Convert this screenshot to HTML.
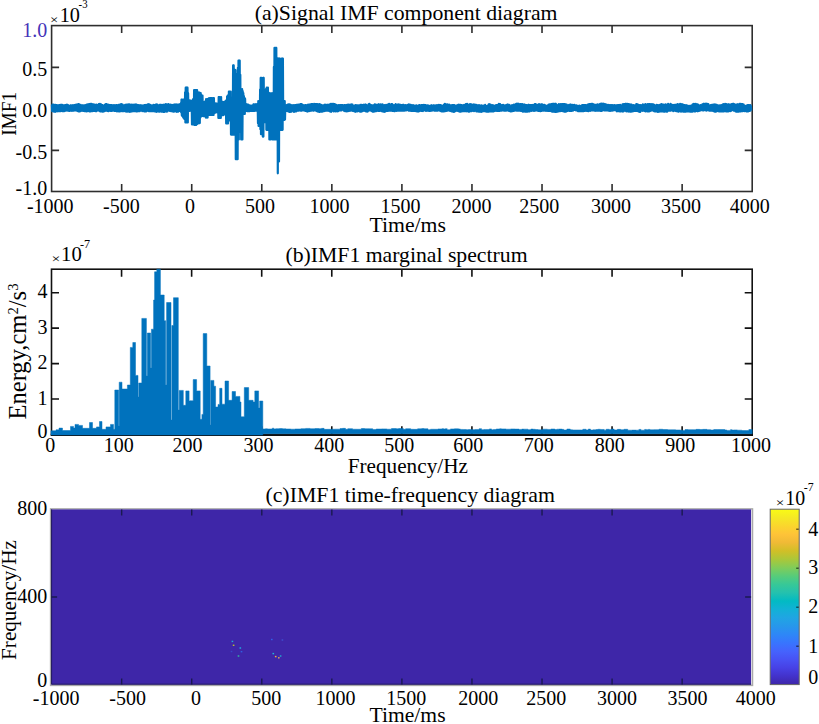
<!DOCTYPE html>
<html><head><meta charset="utf-8"><style>html,body{margin:0;padding:0;background:#fff;width:819px;height:724px;overflow:hidden;position:relative}text{font-family:"Liberation Serif",serif}</style></head>
<body>
<svg width="819" height="724" viewBox="0 0 819 724" style="position:absolute;left:0;top:0">
<rect width="819" height="724" fill="#fff"/>
<g font-family="Liberation Serif, serif">
<g stroke="#2e2e2e" stroke-width="1.6" fill="none">
<rect x="51.6" y="25.6" width="700.60" height="165.90"/>
<path d="M121.66,25.6v7.5M121.66,191.5v-7.5M191.72,25.6v7.5M191.72,191.5v-7.5M261.78,25.6v7.5M261.78,191.5v-7.5M331.84,25.6v7.5M331.84,191.5v-7.5M401.90,25.6v7.5M401.90,191.5v-7.5M471.96,25.6v7.5M471.96,191.5v-7.5M542.02,25.6v7.5M542.02,191.5v-7.5M612.08,25.6v7.5M612.08,191.5v-7.5M682.14,25.6v7.5M682.14,191.5v-7.5M51.6,67.40h7.5M752.2,67.40h-7.5M51.6,150.40h7.5M752.2,150.40h-7.5"/>
</g>
<path d="M51.90,104.61 L52.20,111.11 L52.50,104.59 L52.80,111.27 L53.10,104.99 L53.40,110.96 L53.70,104.72 L54.00,111.58 L54.30,104.78 L54.60,110.76 L54.90,106.17 L55.20,111.80 L55.50,104.95 L55.80,111.24 L56.10,105.95 L56.40,110.82 L56.70,105.18 L57.00,111.40 L57.30,106.22 L57.60,111.19 L57.90,105.40 L58.20,111.19 L58.50,105.32 L58.80,111.20 L59.10,105.12 L59.40,111.21 L59.70,105.98 L60.00,110.18 L60.30,104.85 L60.60,111.22 L60.90,105.32 L61.20,110.87 L61.50,104.74 L61.80,110.61 L62.10,104.91 L62.40,111.22 L62.70,105.08 L63.00,111.22 L63.30,105.26 L63.60,111.22 L63.90,105.43 L64.20,111.16 L64.50,106.48 L64.80,110.82 L65.10,105.19 L65.40,110.54 L65.70,105.94 L66.00,110.68 L66.30,104.90 L66.60,110.14 L66.90,104.75 L67.20,110.45 L67.50,104.84 L67.80,110.59 L68.10,104.98 L68.40,110.00 L68.70,106.04 L69.00,110.86 L69.30,106.20 L69.60,110.99 L69.90,105.51 L70.20,110.64 L70.50,105.46 L70.80,110.66 L71.10,105.39 L71.40,110.30 L71.70,105.78 L72.00,110.81 L72.30,105.37 L72.60,109.85 L72.90,105.36 L73.20,110.65 L73.50,105.26 L73.80,110.57 L74.10,105.14 L74.40,109.88 L74.70,105.79 L75.00,110.48 L75.30,104.89 L75.60,110.42 L75.90,105.46 L76.20,110.47 L76.50,104.63 L76.80,110.73 L77.10,104.48 L77.40,110.98 L77.70,104.33 L78.00,111.23 L78.30,104.18 L78.60,111.49 L78.90,104.03 L79.20,111.44 L79.50,105.16 L79.80,111.39 L80.10,105.41 L80.40,111.19 L80.70,104.74 L81.00,110.99 L81.30,106.12 L81.60,110.41 L81.90,106.18 L82.20,110.69 L82.50,105.27 L82.80,110.78 L83.10,105.23 L83.40,110.72 L83.70,106.37 L84.00,110.98 L84.30,105.29 L84.60,111.07 L84.90,106.35 L85.20,111.16 L85.50,105.22 L85.80,111.21 L86.10,104.84 L86.40,111.33 L86.70,104.70 L87.00,111.00 L87.30,104.95 L87.60,111.18 L87.90,104.40 L88.20,110.25 L88.50,105.48 L88.80,111.00 L89.10,104.16 L89.40,111.41 L89.70,104.04 L90.00,110.98 L90.30,103.92 L90.60,111.31 L90.90,104.54 L91.20,111.25 L91.50,103.90 L91.80,110.00 L92.10,104.03 L92.40,111.10 L92.70,104.74 L93.00,110.43 L93.30,104.31 L93.60,110.95 L93.90,104.89 L94.20,110.92 L94.50,104.52 L94.80,110.98 L95.10,105.43 L95.40,111.05 L95.70,104.76 L96.00,111.11 L96.30,104.72 L96.60,111.17 L96.90,104.79 L97.20,110.25 L97.50,104.99 L97.80,110.26 L98.10,105.45 L98.40,110.30 L98.70,104.19 L99.00,110.39 L99.30,104.83 L99.60,111.26 L99.90,103.77 L100.20,111.29 L100.50,104.10 L100.80,111.37 L101.10,104.36 L101.40,111.44 L101.70,105.90 L102.00,111.51 L102.30,105.04 L102.60,111.59 L102.90,105.52 L103.20,111.56 L103.50,106.00 L103.80,111.35 L104.10,105.23 L104.40,111.13 L104.70,105.49 L105.00,110.91 L105.30,104.30 L105.60,110.69 L105.90,104.00 L106.20,110.60 L106.50,104.12 L106.80,109.85 L107.10,105.56 L107.40,110.89 L107.70,104.80 L108.00,111.03 L108.30,104.75 L108.60,111.18 L108.90,104.96 L109.20,110.26 L109.50,105.04 L109.80,110.00 L110.10,105.09 L110.40,110.78 L110.70,105.15 L111.00,110.94 L111.30,105.20 L111.60,110.06 L111.90,105.37 L112.20,110.78 L112.50,105.27 L112.80,110.39 L113.10,105.28 L113.40,110.09 L113.70,105.29 L114.00,110.81 L114.30,105.40 L114.60,110.76 L114.90,105.31 L115.20,110.88 L115.50,105.25 L115.80,110.98 L116.10,105.18 L116.40,111.19 L116.70,105.11 L117.00,111.35 L117.30,106.07 L117.60,111.16 L117.90,105.27 L118.20,110.68 L118.50,104.80 L118.80,111.50 L119.10,105.94 L119.40,111.42 L119.70,105.57 L120.00,111.33 L120.30,104.24 L120.60,110.43 L120.90,104.25 L121.20,110.32 L121.50,104.22 L121.80,111.22 L122.10,104.46 L122.40,110.56 L122.70,104.69 L123.00,111.25 L123.30,105.35 L123.60,111.08 L123.90,106.23 L124.20,110.42 L124.50,105.86 L124.80,110.35 L125.10,104.93 L125.40,111.43 L125.70,104.78 L126.00,110.94 L126.30,104.63 L126.60,111.55 L126.90,105.22 L127.20,111.61 L127.50,104.96 L127.80,110.42 L128.10,104.42 L128.40,111.49 L128.70,105.86 L129.00,111.76 L129.30,104.38 L129.60,111.81 L129.90,105.00 L130.20,110.89 L130.50,105.26 L130.80,111.64 L131.10,104.61 L131.40,111.49 L131.70,105.17 L132.00,111.34 L132.30,104.73 L132.60,111.19 L132.90,104.83 L133.20,111.11 L133.50,105.26 L133.80,111.16 L134.10,104.72 L134.40,111.22 L134.70,105.81 L135.00,111.27 L135.30,104.60 L135.60,110.76 L135.90,104.53 L136.20,111.35 L136.50,104.67 L136.80,110.86 L137.10,104.85 L137.40,111.28 L137.70,105.78 L138.00,111.25 L138.30,105.20 L138.60,110.38 L138.90,106.11 L139.20,111.19 L139.50,105.42 L139.80,111.19 L140.10,105.41 L140.40,110.24 L140.70,105.42 L141.00,110.51 L141.30,106.08 L141.60,110.55 L141.90,105.42 L142.20,111.22 L142.50,105.78 L142.80,110.16 L143.10,106.04 L143.40,110.26 L143.70,105.27 L144.00,111.30 L144.30,105.21 L144.60,111.45 L144.90,105.20 L145.20,111.46 L145.50,105.00 L145.80,111.35 L146.10,104.83 L146.40,111.31 L146.70,105.52 L147.00,110.77 L147.30,105.73 L147.60,110.24 L147.90,104.31 L148.20,110.91 L148.50,104.35 L148.80,111.14 L149.10,104.45 L149.40,110.43 L149.70,104.54 L150.00,111.19 L150.30,104.78 L150.60,111.22 L150.90,105.06 L151.20,111.23 L151.50,105.98 L151.80,110.67 L152.10,105.76 L152.40,111.19 L152.70,105.63 L153.00,110.52 L153.30,104.90 L153.60,111.16 L153.90,105.61 L154.20,111.19 L154.50,105.16 L154.80,111.34 L155.10,104.77 L155.40,111.49 L155.70,104.67 L156.00,111.64 L156.30,104.57 L156.60,111.79 L156.90,104.47 L157.20,110.46 L157.50,105.85 L157.80,111.46 L158.10,105.92 L158.40,110.83 L158.70,105.84 L159.00,111.62 L159.30,104.90 L159.60,111.55 L159.90,105.40 L160.20,111.41 L160.50,104.74 L160.80,111.48 L161.10,104.80 L161.40,111.63 L161.70,105.98 L162.00,110.68 L162.30,106.04 L162.60,111.63 L162.90,104.97 L163.20,111.79 L163.50,105.74 L163.80,111.81 L164.10,104.64 L164.40,111.83 L164.70,104.94 L165.00,110.64 L165.30,105.67 L165.60,111.34 L165.90,104.10 L166.20,111.17 L166.50,104.29 L166.80,111.60 L167.10,104.73 L167.40,111.38 L167.70,105.35 L168.00,110.66 L168.30,104.20 L168.60,110.33 L168.90,104.24 L169.20,109.83 L169.50,105.52 L169.80,110.91 L170.10,105.04 L170.40,111.02 L170.70,104.72 L171.00,111.12 L171.30,104.88 L171.60,110.53 L171.90,105.18 L172.20,111.32 L172.50,104.98 L172.80,110.17 L173.10,104.86 L173.40,111.56 L173.70,104.73 L174.00,111.68 L174.30,104.61 L174.60,111.21 L174.90,104.49 L175.20,111.11 L175.50,104.49 L175.80,110.74 L176.10,104.50 L176.40,111.81 L176.70,104.71 L177.00,110.92 L177.30,104.54 L177.60,111.75 L177.90,105.20 L178.20,111.65 L178.50,105.29 L178.80,111.08 L179.10,104.33 L179.40,110.05 L179.70,105.15 L180.00,110.97 L180.30,104.07 L180.60,109.74 L180.90,103.21 L181.20,112.50 L181.50,99.60 L181.80,115.34 L182.10,99.56 L182.40,116.21 L182.70,102.39 L183.00,117.08 L183.30,99.49 L183.60,117.95 L183.90,100.21 L184.20,118.83 L184.50,99.42 L184.80,118.53 L185.10,92.38 L185.40,122.40 L185.70,87.70 L186.00,122.40 L186.30,87.70 L186.60,122.40 L186.90,87.70 L187.20,122.40 L187.50,87.70 L187.80,122.40 L188.10,93.18 L188.40,111.09 L188.70,102.71 L189.00,110.44 L189.30,100.69 L189.60,110.80 L189.90,100.28 L190.20,109.76 L190.50,100.64 L190.80,110.83 L191.10,101.31 L191.40,110.16 L191.70,102.35 L192.00,124.50 L192.30,100.70 L192.60,124.50 L192.90,99.40 L193.20,121.04 L193.50,100.46 L193.80,120.83 L194.10,90.10 L194.40,124.90 L194.70,90.10 L195.00,124.90 L195.30,90.10 L195.60,124.90 L195.90,96.29 L196.20,124.90 L196.50,90.10 L196.80,120.52 L197.10,90.10 L197.40,124.00 L197.70,92.60 L198.00,123.10 L198.30,92.60 L198.60,123.10 L198.90,92.60 L199.20,123.10 L199.50,92.60 L199.80,123.10 L200.10,93.73 L200.40,117.53 L200.70,93.13 L201.00,113.34 L201.30,95.60 L201.60,116.20 L201.90,95.60 L202.20,115.60 L202.50,95.60 L202.80,115.02 L203.10,102.32 L203.40,116.11 L203.70,102.12 L204.00,113.64 L204.30,101.92 L204.60,116.25 L204.90,101.72 L205.20,116.14 L205.50,101.91 L205.80,117.60 L206.10,99.10 L206.40,117.60 L206.70,100.91 L207.00,116.16 L207.30,99.10 L207.60,117.60 L207.90,99.10 L208.20,115.14 L208.50,98.60 L208.80,114.90 L209.10,98.10 L209.40,112.46 L209.70,101.45 L210.00,114.90 L210.30,98.10 L210.60,114.84 L210.90,98.10 L211.20,114.90 L211.50,98.10 L211.80,112.71 L212.10,98.10 L212.40,114.90 L212.70,101.09 L213.00,112.98 L213.30,98.10 L213.60,114.90 L213.90,98.10 L214.20,113.20 L214.50,105.09 L214.80,112.39 L215.10,104.09 L215.40,112.73 L215.70,103.45 L216.00,112.49 L216.30,105.24 L216.60,110.68 L216.90,103.62 L217.20,112.21 L217.50,104.46 L217.80,112.55 L218.10,104.87 L218.40,117.90 L218.70,97.10 L219.00,116.94 L219.30,97.10 L219.60,117.90 L219.90,97.10 L220.20,117.90 L220.50,98.60 L220.80,117.90 L221.10,97.10 L221.40,115.18 L221.70,102.70 L222.00,115.23 L222.30,101.92 L222.60,113.12 L222.90,102.25 L223.20,115.17 L223.50,102.50 L223.80,114.77 L224.10,101.89 L224.40,114.36 L224.70,101.66 L225.00,112.02 L225.30,101.44 L225.60,113.54 L225.90,101.97 L226.20,123.50 L226.50,100.06 L226.80,123.50 L227.10,96.54 L227.40,123.50 L227.70,95.50 L228.00,123.50 L228.30,95.50 L228.60,120.30 L228.90,91.60 L229.20,120.30 L229.50,91.60 L229.80,120.30 L230.10,93.64 L230.40,120.30 L230.70,91.60 L231.00,134.60 L231.30,100.10 L231.60,134.60 L231.90,100.10 L232.20,134.60 L232.50,101.95 L232.80,134.60 L233.10,65.40 L233.40,134.60 L233.70,65.40 L234.00,134.60 L234.30,69.27 L234.60,134.60 L234.90,70.89 L235.20,134.60 L235.50,70.15 L235.80,159.20 L236.10,74.90 L236.40,159.20 L236.70,74.90 L237.00,153.35 L237.30,74.90 L237.60,159.20 L237.90,67.75 L238.20,139.40 L238.50,60.60 L238.80,139.40 L239.10,60.60 L239.40,129.20 L239.70,60.60 L240.00,131.77 L240.30,74.85 L240.60,127.40 L240.90,89.10 L241.20,139.40 L241.50,89.55 L241.80,139.40 L242.10,89.10 L242.40,139.40 L242.70,91.10 L243.00,113.90 L243.30,93.10 L243.60,113.90 L243.90,95.99 L244.20,113.90 L244.50,97.87 L244.80,113.90 L245.10,98.90 L245.40,109.91 L245.70,105.42 L246.00,110.93 L246.30,104.39 L246.60,111.01 L246.90,104.32 L247.20,111.08 L247.50,104.49 L247.80,110.35 L248.10,104.71 L248.40,111.13 L248.70,105.01 L249.00,110.24 L249.30,105.90 L249.60,111.19 L249.90,105.38 L250.20,110.96 L250.50,105.85 L250.80,110.22 L251.10,105.82 L251.40,110.86 L251.70,105.48 L252.00,111.02 L252.30,105.80 L252.60,110.25 L252.90,105.43 L253.20,110.91 L253.50,104.25 L253.80,110.86 L254.10,104.27 L254.40,110.82 L254.70,105.42 L255.00,110.77 L255.30,104.31 L255.60,110.72 L255.90,104.33 L256.20,110.36 L256.50,104.23 L256.80,110.60 L257.10,104.10 L257.40,110.69 L257.70,105.43 L258.00,123.30 L258.30,101.10 L258.60,125.90 L258.90,102.08 L259.20,125.90 L259.50,101.10 L259.80,125.90 L260.10,89.50 L260.40,129.18 L260.70,77.90 L261.00,134.23 L261.30,77.90 L261.60,132.15 L261.90,81.92 L262.20,134.19 L262.50,87.63 L262.80,136.60 L263.10,77.90 L263.40,136.60 L263.70,77.90 L264.00,119.63 L264.30,90.40 L264.60,122.10 L264.90,90.40 L265.20,122.10 L265.50,90.40 L265.80,122.10 L266.10,88.95 L266.40,129.80 L266.70,87.50 L267.00,129.80 L267.30,95.73 L267.60,125.20 L267.90,87.50 L268.20,129.80 L268.50,92.68 L268.80,129.80 L269.10,95.16 L269.40,139.50 L269.70,93.30 L270.00,139.50 L270.30,93.30 L270.60,139.50 L270.90,97.29 L271.20,133.37 L271.50,93.30 L271.80,127.40 L272.10,93.30 L272.40,139.50 L272.70,93.30 L273.00,131.56 L273.30,93.30 L273.60,139.50 L273.90,66.94 L274.20,139.50 L274.50,47.90 L274.80,139.50 L275.10,64.96 L275.40,132.03 L275.70,47.90 L276.00,139.50 L276.30,47.90 L276.60,135.18 L276.90,64.04 L277.20,139.50 L277.50,58.50 L277.80,173.30 L278.10,58.50 L278.40,148.30 L278.70,58.50 L279.00,161.46 L279.30,58.50 L279.60,129.80 L279.90,58.50 L280.20,129.80 L280.50,66.28 L280.80,129.80 L281.10,60.29 L281.40,129.80 L281.70,58.50 L282.00,129.80 L282.30,58.50 L282.60,129.80 L282.90,58.50 L283.20,119.90 L283.50,101.10 L283.80,119.90 L284.10,103.65 L284.40,119.90 L284.70,101.10 L285.00,119.50 L285.30,106.10 L285.60,110.38 L285.90,106.24 L286.20,110.58 L286.50,105.20 L286.80,110.88 L287.10,104.94 L287.40,111.09 L287.70,104.68 L288.00,110.21 L288.30,104.42 L288.60,111.16 L288.90,105.05 L289.20,111.94 L289.50,104.31 L289.80,111.78 L290.10,105.31 L290.40,111.81 L290.70,104.78 L291.00,110.63 L291.30,105.02 L291.60,111.68 L291.90,105.25 L292.20,110.44 L292.50,106.33 L292.80,110.49 L293.10,105.21 L293.40,110.69 L293.70,106.15 L294.00,111.84 L294.30,105.48 L294.60,111.50 L294.90,105.08 L295.20,111.42 L295.50,105.03 L295.80,110.56 L296.10,105.34 L296.40,111.29 L296.70,104.92 L297.00,110.80 L297.30,104.87 L297.60,110.73 L297.90,105.95 L298.20,110.08 L298.50,104.66 L298.80,110.62 L299.10,105.32 L299.40,109.82 L299.70,105.30 L300.00,110.35 L300.30,104.13 L300.60,110.77 L300.90,104.05 L301.20,110.33 L301.50,104.17 L301.80,110.71 L302.10,104.90 L302.40,109.99 L302.70,104.78 L303.00,110.19 L303.30,105.04 L303.60,110.49 L303.90,106.05 L304.20,110.15 L304.50,105.49 L304.80,110.76 L305.10,105.13 L305.40,111.00 L305.70,105.00 L306.00,111.01 L306.30,106.14 L306.60,111.22 L306.90,105.32 L307.20,111.57 L307.50,104.94 L307.80,111.30 L308.10,104.63 L308.40,111.25 L308.70,104.89 L309.00,111.08 L309.30,104.66 L309.60,110.92 L309.90,105.00 L310.20,110.80 L310.50,104.41 L310.80,110.75 L311.10,104.62 L311.40,110.71 L311.70,104.17 L312.00,110.44 L312.30,104.05 L312.60,110.52 L312.90,104.74 L313.20,110.62 L313.50,105.31 L313.80,110.71 L314.10,103.95 L314.40,110.14 L314.70,104.98 L315.00,109.98 L315.30,103.99 L315.60,110.29 L315.90,104.02 L316.20,110.86 L316.50,104.01 L316.80,110.46 L317.10,105.64 L317.40,111.42 L317.70,104.20 L318.00,111.58 L318.30,105.21 L318.60,110.92 L318.90,104.34 L319.20,111.78 L319.50,104.12 L319.80,111.80 L320.10,104.33 L320.40,111.77 L320.70,104.55 L321.00,111.74 L321.30,104.94 L321.60,111.71 L321.90,105.10 L322.20,111.63 L322.50,105.75 L322.80,111.45 L323.10,105.90 L323.40,110.83 L323.70,105.31 L324.00,111.09 L324.30,104.82 L324.60,110.91 L324.90,104.78 L325.20,110.78 L325.50,104.78 L325.80,110.75 L326.10,104.80 L326.40,110.62 L326.70,106.11 L327.00,110.39 L327.30,104.86 L327.60,110.64 L327.90,104.86 L328.20,110.64 L328.50,105.69 L328.80,110.68 L329.10,104.51 L329.40,111.19 L329.70,104.32 L330.00,111.44 L330.30,104.13 L330.60,111.69 L330.90,103.93 L331.20,111.81 L331.50,105.59 L331.80,110.57 L332.10,103.85 L332.40,110.53 L332.70,104.06 L333.00,110.35 L333.30,103.80 L333.60,111.37 L333.90,104.05 L334.20,110.63 L334.50,104.01 L334.80,110.69 L335.10,105.64 L335.40,111.39 L335.70,104.61 L336.00,110.85 L336.30,104.90 L336.60,110.51 L336.90,105.20 L337.20,111.44 L337.50,105.24 L337.80,110.43 L338.10,105.23 L338.40,111.04 L338.70,105.22 L339.00,109.91 L339.30,106.34 L339.60,110.33 L339.90,105.21 L340.20,110.52 L340.50,105.19 L340.80,110.51 L341.10,105.17 L341.40,110.50 L341.70,105.15 L342.00,109.66 L342.30,105.13 L342.60,109.62 L342.90,105.98 L343.20,109.62 L343.50,105.92 L343.80,110.74 L344.10,105.10 L344.40,110.42 L344.70,105.10 L345.00,111.14 L345.30,106.07 L345.60,110.26 L345.90,105.10 L346.20,111.08 L346.50,105.02 L346.80,111.37 L347.10,104.93 L347.40,110.66 L347.70,104.84 L348.00,111.20 L348.30,105.15 L348.60,110.63 L348.90,104.65 L349.20,111.02 L349.50,105.46 L349.80,109.89 L350.10,105.53 L350.40,110.66 L350.70,104.53 L351.00,110.68 L351.30,105.27 L351.60,109.88 L351.90,104.45 L352.20,109.98 L352.50,104.54 L352.80,110.87 L353.10,106.07 L353.40,110.49 L353.70,105.99 L354.00,111.18 L354.30,105.80 L354.60,110.83 L354.90,106.22 L355.20,111.78 L355.50,105.12 L355.80,111.08 L356.10,106.39 L356.40,110.58 L356.70,105.31 L357.00,111.56 L357.30,105.41 L357.60,110.20 L357.90,105.50 L358.20,110.38 L358.50,105.39 L358.80,110.91 L359.10,105.59 L359.40,111.52 L359.70,105.44 L360.00,111.57 L360.30,104.94 L360.60,111.63 L360.90,105.77 L361.20,111.59 L361.50,104.77 L361.80,111.36 L362.10,104.98 L362.40,111.13 L362.70,105.15 L363.00,110.90 L363.30,104.91 L363.60,110.67 L363.90,104.85 L364.20,110.14 L364.50,104.79 L364.80,110.61 L365.10,104.72 L365.40,111.09 L365.70,104.64 L366.00,111.34 L366.30,104.85 L366.60,111.33 L366.90,105.90 L367.20,111.61 L367.50,105.52 L367.80,111.41 L368.10,105.24 L368.40,110.06 L368.70,104.08 L369.00,109.85 L369.30,103.94 L369.60,110.44 L369.90,104.44 L370.20,110.46 L370.50,105.53 L370.80,110.05 L371.10,105.19 L371.40,110.99 L371.70,105.29 L372.00,110.63 L372.30,105.30 L372.60,111.59 L372.90,105.63 L373.20,111.66 L373.50,105.45 L373.80,111.59 L374.10,105.68 L374.40,111.46 L374.70,104.44 L375.00,111.32 L375.30,104.50 L375.60,111.19 L375.90,104.57 L376.20,111.09 L376.50,104.78 L376.80,110.57 L377.10,105.69 L377.40,110.41 L377.70,105.05 L378.00,110.98 L378.30,104.44 L378.60,110.95 L378.90,104.40 L379.20,110.27 L379.50,105.89 L379.80,111.01 L380.10,105.52 L380.40,110.50 L380.70,104.33 L381.00,110.32 L381.30,105.62 L381.60,111.22 L381.90,105.16 L382.20,111.30 L382.50,104.47 L382.80,111.42 L383.10,105.95 L383.40,111.54 L383.70,105.27 L384.00,111.66 L384.30,105.16 L384.60,111.78 L384.90,105.82 L385.20,111.54 L385.50,105.49 L385.80,111.26 L386.10,104.86 L386.40,111.00 L386.70,105.82 L387.00,109.98 L387.30,104.89 L387.60,110.95 L387.90,104.66 L388.20,110.79 L388.50,104.13 L388.80,110.12 L389.10,103.95 L389.40,110.71 L389.70,105.19 L390.00,110.66 L390.30,105.07 L390.60,110.62 L390.90,104.33 L391.20,110.63 L391.50,104.06 L391.80,110.76 L392.10,104.03 L392.40,110.88 L392.70,104.70 L393.00,111.01 L393.30,105.11 L393.60,110.95 L393.90,105.29 L394.20,111.19 L394.50,105.63 L394.80,111.10 L395.10,104.82 L395.40,110.75 L395.70,104.00 L396.00,110.39 L396.30,105.05 L396.60,110.82 L396.90,105.13 L397.20,110.42 L397.50,105.63 L397.80,110.71 L398.10,104.33 L398.40,110.25 L398.70,104.54 L399.00,110.62 L399.30,104.63 L399.60,110.58 L399.90,104.78 L400.20,110.39 L400.50,104.80 L400.80,110.58 L401.10,105.04 L401.40,109.74 L401.70,105.22 L402.00,110.60 L402.30,105.59 L402.60,110.63 L402.90,104.79 L403.20,110.15 L403.50,104.88 L403.80,110.59 L404.10,105.50 L404.40,110.56 L404.70,105.55 L405.00,110.52 L405.30,105.21 L405.60,109.85 L405.90,106.47 L406.20,110.48 L406.50,105.68 L406.80,109.78 L407.10,104.98 L407.40,109.88 L407.70,105.42 L408.00,110.21 L408.30,104.59 L408.60,110.67 L408.90,104.39 L409.20,109.82 L409.50,104.54 L409.80,110.75 L410.10,104.99 L410.40,110.59 L410.70,104.96 L411.00,110.82 L411.30,105.99 L411.60,110.17 L411.90,105.38 L412.20,110.88 L412.50,105.41 L412.80,110.43 L413.10,105.41 L413.40,110.87 L413.70,105.41 L414.00,110.87 L414.30,105.87 L414.60,110.27 L414.90,106.24 L415.20,110.92 L415.50,105.53 L415.80,111.06 L416.10,105.52 L416.40,111.21 L416.70,105.30 L417.00,111.35 L417.30,106.11 L417.60,111.50 L417.90,106.10 L418.20,111.55 L418.50,105.79 L418.80,110.43 L419.10,105.18 L419.40,111.24 L419.70,105.19 L420.00,110.27 L420.30,106.27 L420.60,110.27 L420.90,105.23 L421.20,110.87 L421.50,105.17 L421.80,110.22 L422.10,105.11 L422.40,111.00 L422.70,105.04 L423.00,111.07 L423.30,104.98 L423.60,110.36 L423.90,104.91 L424.20,110.08 L424.50,104.99 L424.80,110.05 L425.10,105.10 L425.40,110.73 L425.70,105.20 L426.00,110.84 L426.30,106.03 L426.60,109.93 L426.90,105.97 L427.20,110.68 L427.50,105.45 L427.80,110.74 L428.10,106.27 L428.40,110.36 L428.70,105.49 L429.00,110.85 L429.30,106.35 L429.60,109.95 L429.90,106.01 L430.20,110.90 L430.50,106.15 L430.80,110.35 L431.10,105.43 L431.40,110.69 L431.70,105.37 L432.00,110.58 L432.30,106.10 L432.60,109.67 L432.90,106.01 L433.20,109.81 L433.50,105.26 L433.80,110.51 L434.10,105.28 L434.40,110.58 L434.70,106.13 L435.00,110.66 L435.30,105.58 L435.60,110.59 L435.90,105.34 L436.20,110.76 L436.50,105.26 L436.80,110.35 L437.10,105.16 L437.40,110.61 L437.70,105.44 L438.00,110.53 L438.30,105.81 L438.60,109.72 L438.90,104.88 L439.20,110.24 L439.50,106.21 L439.80,110.71 L440.10,105.09 L440.40,110.94 L440.70,105.21 L441.00,111.17 L441.30,105.34 L441.60,111.40 L441.90,106.36 L442.20,110.96 L442.50,106.11 L442.80,111.48 L443.10,105.77 L443.40,111.42 L443.70,104.92 L444.00,111.36 L444.30,104.28 L444.60,110.81 L444.90,103.97 L445.20,111.22 L445.50,104.00 L445.80,110.19 L446.10,104.51 L446.40,110.99 L446.70,105.16 L447.00,110.69 L447.30,104.29 L447.60,110.76 L447.90,105.26 L448.20,110.40 L448.50,104.79 L448.80,110.23 L449.10,104.71 L449.40,110.28 L449.70,104.98 L450.00,110.99 L450.30,106.26 L450.60,110.86 L450.90,105.23 L451.20,111.15 L451.50,105.77 L451.80,111.34 L452.10,105.18 L452.40,111.48 L452.70,105.15 L453.00,111.63 L453.30,105.11 L453.60,111.78 L453.90,105.48 L454.20,111.79 L454.50,105.03 L454.80,110.78 L455.10,105.83 L455.40,111.26 L455.70,106.08 L456.00,110.25 L456.30,105.52 L456.60,109.89 L456.90,105.43 L457.20,110.63 L457.50,105.11 L457.80,110.85 L458.10,104.88 L458.40,111.08 L458.70,104.87 L459.00,111.31 L459.30,104.87 L459.60,111.54 L459.90,105.60 L460.20,111.65 L460.50,104.93 L460.80,111.53 L461.10,105.02 L461.40,111.40 L461.70,105.11 L462.00,111.28 L462.30,105.50 L462.60,111.15 L462.90,105.31 L463.20,110.05 L463.50,105.08 L463.80,111.10 L464.10,104.81 L464.40,109.96 L464.70,105.06 L465.00,111.06 L465.30,105.45 L465.60,111.16 L465.90,104.01 L466.20,111.21 L466.50,104.20 L466.80,111.32 L467.10,103.87 L467.40,111.23 L467.70,105.27 L468.00,111.31 L468.30,104.96 L468.60,111.64 L468.90,104.93 L469.20,111.67 L469.50,104.96 L469.80,110.51 L470.10,104.06 L470.40,110.91 L470.70,104.72 L471.00,111.18 L471.30,104.44 L471.60,111.10 L471.90,104.64 L472.20,111.02 L472.50,105.97 L472.80,110.10 L473.10,104.66 L473.40,110.04 L473.70,104.65 L474.00,111.13 L474.30,104.65 L474.60,109.98 L474.90,104.84 L475.20,110.52 L475.50,104.76 L475.80,110.67 L476.10,104.91 L476.40,111.33 L476.70,105.05 L477.00,111.16 L477.30,106.20 L477.60,111.44 L477.90,105.35 L478.20,110.65 L478.50,105.36 L478.80,111.61 L479.10,105.36 L479.40,111.70 L479.70,105.46 L480.00,111.76 L480.30,105.78 L480.60,110.50 L480.90,105.79 L481.20,111.88 L481.50,105.32 L481.80,111.68 L482.10,106.02 L482.40,111.47 L482.70,106.30 L483.00,111.27 L483.30,105.71 L483.60,111.06 L483.90,105.74 L484.20,110.33 L484.50,105.49 L484.80,111.14 L485.10,104.95 L485.40,111.29 L485.70,105.56 L486.00,111.45 L486.30,105.96 L486.60,111.61 L486.90,105.98 L487.20,111.70 L487.50,105.90 L487.80,110.43 L488.10,105.24 L488.40,111.62 L488.70,104.45 L489.00,111.58 L489.30,104.25 L489.60,110.94 L489.90,104.44 L490.20,111.50 L490.50,104.65 L490.80,111.48 L491.10,105.36 L491.40,111.46 L491.70,105.31 L492.00,110.32 L492.30,106.17 L492.60,111.41 L492.90,105.19 L493.20,111.37 L493.50,106.19 L493.80,111.30 L494.10,105.98 L494.40,110.77 L494.70,105.87 L495.00,111.00 L495.30,105.43 L495.60,110.32 L495.90,105.82 L496.20,110.03 L496.50,105.20 L496.80,110.94 L497.10,106.14 L497.40,109.98 L497.70,104.81 L498.00,110.97 L498.30,104.70 L498.60,110.95 L498.90,103.84 L499.20,110.90 L499.50,104.63 L499.80,110.81 L500.10,104.06 L500.40,110.72 L500.70,105.52 L501.00,109.94 L501.30,105.32 L501.60,110.53 L501.90,105.21 L502.20,110.30 L502.50,106.06 L502.80,110.50 L503.10,104.81 L503.40,110.41 L503.70,106.21 L504.00,110.55 L504.30,105.49 L504.60,110.57 L504.90,105.23 L505.20,110.58 L505.50,105.88 L505.80,110.19 L506.10,104.99 L506.40,110.54 L506.70,104.84 L507.00,110.14 L507.30,104.70 L507.60,110.51 L507.90,104.55 L508.20,110.56 L508.50,105.55 L508.80,110.78 L509.10,104.88 L509.40,110.25 L509.70,105.07 L510.00,111.21 L510.30,106.38 L510.60,111.42 L510.90,106.25 L511.20,111.51 L511.50,106.17 L511.80,110.76 L512.10,105.15 L512.40,111.20 L512.70,105.25 L513.00,110.79 L513.30,105.27 L513.60,110.89 L513.90,104.59 L514.20,110.65 L514.50,104.90 L514.80,110.75 L515.10,104.66 L515.40,110.35 L515.70,104.09 L516.00,110.10 L516.30,103.92 L516.60,110.66 L516.90,103.76 L517.20,110.13 L517.50,103.76 L517.80,110.61 L518.10,103.81 L518.40,110.58 L518.70,103.85 L519.00,110.56 L519.30,104.83 L519.60,110.53 L519.90,105.12 L520.20,110.60 L520.50,103.99 L520.80,110.84 L521.10,104.05 L521.40,110.56 L521.70,105.19 L522.00,110.80 L522.30,104.18 L522.60,111.56 L522.90,104.26 L523.20,111.73 L523.50,105.25 L523.80,110.42 L524.10,104.54 L524.40,110.72 L524.70,104.70 L525.00,111.76 L525.30,104.86 L525.60,111.77 L525.90,106.01 L526.20,111.75 L526.50,105.02 L526.80,111.50 L527.10,106.01 L527.40,111.57 L527.70,106.14 L528.00,111.39 L528.30,104.90 L528.60,111.50 L528.90,104.86 L529.20,111.25 L529.50,105.02 L529.80,111.29 L530.10,104.99 L530.40,110.75 L530.70,105.06 L531.00,110.29 L531.30,105.13 L531.60,110.91 L531.90,105.21 L532.20,110.13 L532.50,105.04 L532.80,110.04 L533.10,104.81 L533.40,110.80 L533.70,105.22 L534.00,109.81 L534.30,104.79 L534.60,110.78 L534.90,104.14 L535.20,110.77 L535.50,104.18 L535.80,109.85 L536.10,105.18 L536.40,110.38 L536.70,104.88 L537.00,110.12 L537.30,105.56 L537.60,110.59 L537.90,105.55 L538.20,110.84 L538.50,104.47 L538.80,110.92 L539.10,104.47 L539.40,110.97 L539.70,104.29 L540.00,111.03 L540.30,104.56 L540.60,111.08 L540.90,105.37 L541.20,110.03 L541.50,104.23 L541.80,110.99 L542.10,104.40 L542.40,110.41 L542.70,104.56 L543.00,110.14 L543.30,104.73 L543.60,110.70 L543.90,105.00 L544.20,110.66 L544.50,104.95 L544.80,109.98 L545.10,105.64 L545.40,110.15 L545.70,105.72 L546.00,110.94 L546.30,106.19 L546.60,109.97 L546.90,105.85 L547.20,109.99 L547.50,105.71 L547.80,110.95 L548.10,105.80 L548.40,110.96 L548.70,104.50 L549.00,110.90 L549.30,104.29 L549.60,110.84 L549.90,104.66 L550.20,110.88 L550.50,105.30 L550.80,110.12 L551.10,104.14 L551.40,111.32 L551.70,104.16 L552.00,111.55 L552.30,103.79 L552.60,111.77 L552.90,105.23 L553.20,111.32 L553.50,103.76 L553.80,111.75 L554.10,103.80 L554.40,110.97 L554.70,104.09 L555.00,111.93 L555.30,103.91 L555.60,111.93 L555.90,103.95 L556.20,111.89 L556.50,105.65 L556.80,110.55 L557.10,105.51 L557.40,111.62 L557.70,105.53 L558.00,111.48 L558.30,104.50 L558.60,111.32 L558.90,104.04 L559.20,111.22 L559.50,104.56 L559.80,111.13 L560.10,105.32 L560.40,111.03 L560.70,104.03 L561.00,110.93 L561.30,105.17 L561.60,109.91 L561.90,104.02 L562.20,110.85 L562.50,104.05 L562.80,111.08 L563.10,105.48 L563.40,110.69 L563.70,104.10 L564.00,111.54 L564.30,104.13 L564.60,110.84 L564.90,104.16 L565.20,111.68 L565.50,105.45 L565.80,111.65 L566.10,104.51 L566.40,111.44 L566.70,104.70 L567.00,110.51 L567.30,105.73 L567.60,111.02 L567.90,105.51 L568.20,110.40 L568.50,105.04 L568.80,110.59 L569.10,104.91 L569.40,110.91 L569.70,104.81 L570.00,110.26 L570.30,104.70 L570.60,110.94 L570.90,104.59 L571.20,109.83 L571.50,104.73 L571.80,110.80 L572.10,105.56 L572.40,110.69 L572.70,104.74 L573.00,110.57 L573.30,105.10 L573.60,109.60 L573.90,105.77 L574.20,110.02 L574.50,104.97 L574.80,109.61 L575.10,105.28 L575.40,110.26 L575.70,106.13 L576.00,110.52 L576.30,105.33 L576.60,110.25 L576.90,105.88 L577.20,110.24 L577.50,105.97 L577.80,111.03 L578.10,106.28 L578.40,110.46 L578.70,106.00 L579.00,111.09 L579.30,105.48 L579.60,111.12 L579.90,105.99 L580.20,110.59 L580.50,106.25 L580.80,111.15 L581.10,105.93 L581.40,110.96 L581.70,105.37 L582.00,111.17 L582.30,105.12 L582.60,110.96 L582.90,105.03 L583.20,111.15 L583.50,105.02 L583.80,111.06 L584.10,105.03 L584.40,110.43 L584.70,105.03 L585.00,110.86 L585.30,105.04 L585.60,110.45 L585.90,105.05 L586.20,110.73 L586.50,105.23 L586.80,110.83 L587.10,105.63 L587.40,110.10 L587.70,104.60 L588.00,111.03 L588.30,104.44 L588.60,111.12 L588.90,104.28 L589.20,110.03 L589.50,104.17 L589.80,110.17 L590.10,104.08 L590.40,110.81 L590.70,105.51 L591.00,110.52 L591.30,103.88 L591.60,110.49 L591.90,104.46 L592.20,110.42 L592.50,103.92 L592.80,110.50 L593.10,104.11 L593.40,109.91 L593.70,104.30 L594.00,110.48 L594.30,104.49 L594.60,110.75 L594.90,104.78 L595.20,110.78 L595.50,104.97 L595.80,110.73 L596.10,105.40 L596.40,110.67 L596.70,105.19 L597.00,110.13 L597.30,104.42 L597.60,110.56 L597.90,104.77 L598.20,110.56 L598.50,104.82 L598.80,110.66 L599.10,104.76 L599.40,110.75 L599.70,104.06 L600.00,110.58 L600.30,103.73 L600.60,110.95 L600.90,104.51 L601.20,110.73 L601.50,103.72 L601.80,110.87 L602.10,103.73 L602.40,109.84 L602.70,103.74 L603.00,110.21 L603.30,103.76 L603.60,110.25 L603.90,103.77 L604.20,110.44 L604.50,104.94 L604.80,110.44 L605.10,104.38 L605.40,110.43 L605.70,104.39 L606.00,109.54 L606.30,105.65 L606.60,110.42 L606.90,104.82 L607.20,110.45 L607.50,105.49 L607.80,109.99 L608.10,104.95 L608.40,110.63 L608.70,105.26 L609.00,109.97 L609.30,105.06 L609.60,110.81 L609.90,105.89 L610.20,110.86 L610.50,105.12 L610.80,110.17 L611.10,106.10 L611.40,110.35 L611.70,105.12 L612.00,110.79 L612.30,105.84 L612.60,110.07 L612.90,105.11 L613.20,110.06 L613.50,105.36 L613.80,110.31 L614.10,105.81 L614.40,109.95 L614.70,105.14 L615.00,110.01 L615.30,106.28 L615.60,110.24 L615.90,105.70 L616.20,110.69 L616.50,105.56 L616.80,111.29 L617.10,105.16 L617.40,110.22 L617.70,106.12 L618.00,111.26 L618.30,105.16 L618.60,111.18 L618.90,105.15 L619.20,110.34 L619.50,105.42 L619.80,111.32 L620.10,104.87 L620.40,110.17 L620.70,105.70 L621.00,111.46 L621.30,105.55 L621.60,110.41 L621.90,105.43 L622.20,110.43 L622.50,104.33 L622.80,111.54 L623.10,104.19 L623.40,111.51 L623.70,105.37 L624.00,110.29 L624.30,103.99 L624.60,110.71 L624.90,105.42 L625.20,110.30 L625.50,103.90 L625.80,110.84 L626.10,103.91 L626.40,111.48 L626.70,104.79 L627.00,110.30 L627.30,103.96 L627.60,110.98 L627.90,105.52 L628.20,111.54 L628.50,104.09 L628.80,111.39 L629.10,104.23 L629.40,110.31 L629.70,104.41 L630.00,111.70 L630.30,105.00 L630.60,111.75 L630.90,104.62 L631.20,111.73 L631.50,104.59 L631.80,110.47 L632.10,105.56 L632.40,111.42 L632.70,105.82 L633.00,111.00 L633.30,105.22 L633.60,111.11 L633.90,105.73 L634.20,110.03 L634.50,105.30 L634.80,110.98 L635.10,105.56 L635.40,110.96 L635.70,105.25 L636.00,110.80 L636.30,104.12 L636.60,110.92 L636.90,104.07 L637.20,109.99 L637.50,104.28 L637.80,110.13 L638.10,104.54 L638.40,111.39 L638.70,105.47 L639.00,111.60 L639.30,105.07 L639.60,111.82 L639.90,105.33 L640.20,111.87 L640.50,105.20 L640.80,110.92 L641.10,106.25 L641.40,110.69 L641.70,105.36 L642.00,110.18 L642.30,105.79 L642.60,110.80 L642.90,104.35 L643.20,110.68 L643.50,105.36 L643.80,109.89 L644.10,105.39 L644.40,110.80 L644.70,105.61 L645.00,111.23 L645.30,103.99 L645.60,111.42 L645.90,104.40 L646.20,110.65 L646.50,104.82 L646.80,110.20 L647.10,104.94 L647.40,111.48 L647.70,103.99 L648.00,111.45 L648.30,104.57 L648.60,111.43 L648.90,104.08 L649.20,111.35 L649.50,104.10 L649.80,111.15 L650.10,104.11 L650.40,110.96 L650.70,104.97 L651.00,110.77 L651.30,104.28 L651.60,110.23 L651.90,104.15 L652.20,110.39 L652.50,105.67 L652.80,110.11 L653.10,104.33 L653.40,110.67 L653.70,105.74 L654.00,111.22 L654.30,104.91 L654.60,111.28 L654.90,105.44 L655.20,111.42 L655.50,105.71 L655.80,111.08 L656.10,106.04 L656.40,111.46 L656.70,104.96 L657.00,110.68 L657.30,105.07 L657.60,111.80 L657.90,105.18 L658.20,111.78 L658.50,105.41 L658.80,110.84 L659.10,105.07 L659.40,111.53 L659.70,105.43 L660.00,111.52 L660.30,104.59 L660.60,111.44 L660.90,104.38 L661.20,110.12 L661.50,104.22 L661.80,111.43 L662.10,104.38 L662.40,110.70 L662.70,105.34 L663.00,111.50 L663.30,104.72 L663.60,111.53 L663.90,105.39 L664.20,111.56 L664.50,104.77 L664.80,111.59 L665.10,105.40 L665.40,111.35 L665.70,104.43 L666.00,110.32 L666.30,105.54 L666.60,111.66 L666.90,105.13 L667.20,111.61 L667.50,104.66 L667.80,110.62 L668.10,103.94 L668.40,110.59 L668.70,105.28 L669.00,110.04 L669.30,105.57 L669.60,110.75 L669.90,104.72 L670.20,109.91 L670.50,103.92 L670.80,110.77 L671.10,104.35 L671.40,110.22 L671.70,104.50 L672.00,109.97 L672.30,105.36 L672.60,110.39 L672.90,105.27 L673.20,111.22 L673.50,105.24 L673.80,110.61 L674.10,104.80 L674.40,110.07 L674.70,105.23 L675.00,110.54 L675.30,104.94 L675.60,110.89 L675.90,104.79 L676.20,111.22 L676.50,104.62 L676.80,111.19 L677.10,104.42 L677.40,110.89 L677.70,104.22 L678.00,111.54 L678.30,104.62 L678.60,111.65 L678.90,105.06 L679.20,110.90 L679.50,104.46 L679.80,111.25 L680.10,103.94 L680.40,111.29 L680.70,105.23 L681.00,111.68 L681.30,104.38 L681.60,110.77 L681.90,104.18 L682.20,111.50 L682.50,104.36 L682.80,110.52 L683.10,104.57 L683.40,111.68 L683.70,104.77 L684.00,111.69 L684.30,105.03 L684.60,111.70 L684.90,105.18 L685.20,110.56 L685.50,105.23 L685.80,111.60 L686.10,105.24 L686.40,111.52 L686.70,105.26 L687.00,111.44 L687.30,106.13 L687.60,111.37 L687.90,105.93 L688.20,110.89 L688.50,106.09 L688.80,111.45 L689.10,105.90 L689.40,111.10 L689.70,106.12 L690.00,111.64 L690.30,105.81 L690.60,111.74 L690.90,106.12 L691.20,110.41 L691.50,105.57 L691.80,111.72 L692.10,105.76 L692.40,111.65 L692.70,104.46 L693.00,111.25 L693.30,105.13 L693.60,110.34 L693.90,103.91 L694.20,111.43 L694.50,104.42 L694.80,110.68 L695.10,104.37 L695.40,111.48 L695.70,103.97 L696.00,110.63 L696.30,104.00 L696.60,110.87 L696.90,104.59 L697.20,110.32 L697.50,104.25 L697.80,111.29 L698.10,104.49 L698.40,110.97 L698.70,105.32 L699.00,111.00 L699.30,105.91 L699.60,110.62 L699.90,106.23 L700.20,110.48 L700.50,105.18 L700.80,110.41 L701.10,105.28 L701.40,109.77 L701.70,104.98 L702.00,109.86 L702.30,104.30 L702.60,110.31 L702.90,104.05 L703.20,110.44 L703.50,103.96 L703.80,110.47 L704.10,103.95 L704.40,109.92 L704.70,105.46 L705.00,109.91 L705.30,103.79 L705.60,109.75 L705.90,103.73 L706.20,110.62 L706.50,103.82 L706.80,110.50 L707.10,103.94 L707.40,109.85 L707.70,104.06 L708.00,110.14 L708.30,104.18 L708.60,110.06 L708.90,105.53 L709.20,110.72 L709.50,105.88 L709.80,109.82 L710.10,105.37 L710.40,110.77 L710.70,105.03 L711.00,110.09 L711.30,105.32 L711.60,110.60 L711.90,104.87 L712.20,110.59 L712.50,104.82 L712.80,109.87 L713.10,104.75 L713.40,111.09 L713.70,104.68 L714.00,110.96 L714.30,104.60 L714.60,111.56 L714.90,104.53 L715.20,111.69 L715.50,104.65 L715.80,111.60 L716.10,105.46 L716.40,111.51 L716.70,104.95 L717.00,110.39 L717.30,105.11 L717.60,110.96 L717.90,105.56 L718.20,111.18 L718.50,105.65 L718.80,111.30 L719.10,105.37 L719.40,111.33 L719.70,105.72 L720.00,110.42 L720.30,105.45 L720.60,111.37 L720.90,105.50 L721.20,111.38 L721.50,105.21 L721.80,111.38 L722.10,104.86 L722.40,111.13 L722.70,104.50 L723.00,111.38 L723.30,104.15 L723.60,111.38 L723.90,104.73 L724.20,111.28 L724.50,104.75 L724.80,110.29 L725.10,103.96 L725.40,110.79 L725.70,104.08 L726.00,111.44 L726.30,104.19 L726.60,111.08 L726.90,104.34 L727.20,111.45 L727.50,105.31 L727.80,111.19 L728.10,104.42 L728.40,111.33 L728.70,104.46 L729.00,110.50 L729.30,104.51 L729.60,110.95 L729.90,104.55 L730.20,111.11 L730.50,105.14 L730.80,110.96 L731.10,104.28 L731.40,110.68 L731.70,104.13 L732.00,109.87 L732.30,103.98 L732.60,109.92 L732.90,103.84 L733.20,109.68 L733.50,103.96 L733.80,110.72 L734.10,104.74 L734.40,110.36 L734.70,104.33 L735.00,110.08 L735.30,104.52 L735.60,111.49 L735.90,105.10 L736.20,111.65 L736.50,105.04 L736.80,111.64 L737.10,104.43 L737.40,111.07 L737.70,104.27 L738.00,111.60 L738.30,105.37 L738.60,111.59 L738.90,104.25 L739.20,111.20 L739.50,103.94 L739.80,111.47 L740.10,104.29 L740.40,111.39 L740.70,103.97 L741.00,111.32 L741.30,105.30 L741.60,111.15 L741.90,104.14 L742.20,111.19 L742.50,104.20 L742.80,111.20 L743.10,105.78 L743.40,110.86 L743.70,104.65 L744.00,110.21 L744.30,106.06 L744.60,111.10 L744.90,106.34 L745.20,110.71 L745.50,105.74 L745.80,110.79 L746.10,106.25 L746.40,111.33 L746.70,105.98 L747.00,111.37 L747.30,105.08 L747.60,110.16 L747.90,105.30 L748.20,111.37 L748.50,105.05 L748.80,110.24 L749.10,105.04 L749.40,110.99 L749.70,105.60 L750.00,110.80 L750.30,105.01 L750.60,110.47 L750.90,106.14 L751.20,110.56" fill="none" stroke="#0072BD" stroke-width="2.2" stroke-linejoin="round"/>
<text x="26.95" y="212.50" font-size="20" fill="#000">-1000</text>
<text x="103.05" y="212.50" font-size="20" fill="#000">-500</text>
<text x="185.10" y="212.50" font-size="20" fill="#000">0</text>
<text x="244.95" y="212.50" font-size="20" fill="#000">500</text>
<text x="309.40" y="212.50" font-size="20" fill="#000">1000</text>
<text x="380.45" y="212.50" font-size="20" fill="#000">1500</text>
<text x="451.55" y="212.50" font-size="20" fill="#000">2000</text>
<text x="519.30" y="212.50" font-size="20" fill="#000">2500</text>
<text x="591.00" y="212.50" font-size="20" fill="#000">3000</text>
<text x="661.10" y="212.50" font-size="20" fill="#000">3500</text>
<text x="729.80" y="212.50" font-size="20" fill="#000">4000</text>
<text x="47.2" y="36.6" font-size="20" text-anchor="end" fill="#4433b8">1.0</text>
<text x="47.2" y="75.8" font-size="20" text-anchor="end" fill="#000">0.5</text>
<text x="47.2" y="117.3" font-size="20" text-anchor="end" fill="#000">0.0</text>
<text x="47.2" y="158.9" font-size="20" text-anchor="end" fill="#000">-0.5</text>
<text x="47.2" y="194.8" font-size="20" text-anchor="end" fill="#000">-1.0</text>
<text x="50.02" y="23.62" font-size="13.5" textLength="8.32" lengthAdjust="spacingAndGlyphs" fill="#000" >×</text>
<text x="59.68" y="21.70" font-size="20.5" textLength="20.23" lengthAdjust="spacingAndGlyphs" fill="#000" >10</text>
<text x="78.57" y="8.20" font-size="11.5" textLength="9.00" lengthAdjust="spacingAndGlyphs" fill="#000" >-3</text>
<text x="254.73" y="19.50" font-size="21.7" textLength="302.77" lengthAdjust="spacingAndGlyphs" fill="#000" >(a)Signal IMF component diagram</text>
<text x="369.47" y="231.80" font-size="21.7" textLength="76.50" lengthAdjust="spacingAndGlyphs" fill="#000" >Time/ms</text>
<text transform="translate(15.90,135.87) rotate(-90)" x="0" y="0" font-size="21.7" textLength="44.10" lengthAdjust="spacingAndGlyphs" fill="#000">IMF1</text>
<g stroke="#111" stroke-width="1.6" fill="none">
<rect x="51.5" y="269.2" width="700.70" height="165.30"/>
<path d="M121.57,269.2v7.5M121.57,434.5v-8.3M191.64,269.2v7.5M191.64,434.5v-8.3M261.71,269.2v7.5M261.71,434.5v-8.3M331.78,269.2v7.5M331.78,434.5v-8.3M401.85,269.2v7.5M401.85,434.5v-8.3M471.92,269.2v7.5M471.92,434.5v-8.3M541.99,269.2v7.5M541.99,434.5v-8.3M612.06,269.2v7.5M612.06,434.5v-8.3M682.13,269.2v7.5M682.13,434.5v-8.3M51.5,399.05h7.5M752.2,399.05h-7.5M51.5,363.60h7.5M752.2,363.60h-7.5M51.5,328.15h7.5M752.2,328.15h-7.5M51.5,292.70h7.5M752.2,292.70h-7.5"/>
<path d="M50.7,434.8H753.0" stroke-width="2.2"/>
</g>
<path d="M51.00,434.9L51.00,430.80L56.00,430.80L56.00,429.80L59.00,429.80L59.00,428.10L62.50,428.10L62.50,430.50L70.50,430.50L70.50,426.40L73.50,426.40L73.50,428.00L75.00,428.00L75.00,424.40L78.50,424.40L78.50,425.40L82.50,425.40L82.50,428.30L89.50,428.30L89.50,422.50L92.50,422.50L92.50,428.30L96.50,428.30L96.50,426.90L99.50,426.90L99.50,421.50L102.00,421.50L102.00,429.30L106.00,429.30L106.00,426.90L110.50,426.90L110.50,424.40L113.50,424.40L113.50,429.30L114.80,429.30L114.80,390.00L118.60,390.00L118.60,426.00L119.20,426.00L119.20,382.20L122.00,382.20L122.00,389.00L127.40,389.00L127.40,385.00L130.30,385.00L130.30,347.40L132.80,347.40L132.80,342.50L135.50,342.50L135.50,375.40L138.00,375.40L138.00,397.00L138.70,397.00L138.70,383.00L141.80,383.00L141.80,318.40L146.40,318.40L146.40,376.00L147.30,376.00L147.30,333.00L150.60,333.00L150.60,368.00L151.40,368.00L151.40,329.20L153.60,329.20L153.60,300.00L154.60,300.00L154.60,271.80L156.80,271.80L156.80,269.20L160.40,269.20L160.40,295.00L164.20,295.00L164.20,320.70L165.70,320.70L165.70,385.00L166.60,385.00L166.60,302.50L171.00,302.50L171.00,420.00L171.80,420.00L171.80,325.50L173.50,325.50L173.50,297.70L178.30,297.70L178.30,410.00L179.20,410.00L179.20,390.40L183.30,390.40L183.30,405.30L185.80,405.30L185.80,390.90L189.10,390.90L189.10,401.00L190.00,401.00L190.00,400.80L193.20,400.80L193.20,379.60L196.60,379.60L196.60,390.90L200.20,390.90L200.20,419.30L201.90,419.30L201.90,414.40L203.20,414.40L203.20,333.60L206.80,333.60L206.80,366.00L210.10,366.00L210.10,425.00L210.70,425.00L210.70,380.40L213.90,380.40L213.90,386.20L215.60,386.20L215.60,407.00L218.00,407.00L218.00,404.40L219.70,404.40L219.70,388.30L222.00,388.30L222.00,404.20L225.00,404.20L225.00,381.00L228.60,381.00L228.60,400.30L232.10,400.30L232.10,391.50L235.50,391.50L235.50,396.40L239.90,396.40L239.90,402.00L241.00,402.00L241.00,416.80L244.30,416.80L244.30,387.60L248.70,387.60L248.70,400.30L253.10,400.30L253.10,402.00L254.80,402.00L254.80,390.90L258.60,390.90L258.60,408.00L259.70,408.00L259.70,401.00L262.80,401.00L262.80,434.9ZM262.80,433.7L262.80,428.94L265.36,428.94L265.36,428.77L267.38,428.77L267.38,428.96L272.30,428.96L272.30,428.21L273.83,428.21L273.83,428.89L275.72,428.89L275.72,428.71L279.32,428.71L279.32,428.59L282.41,428.59L282.41,428.87L286.05,428.87L286.05,428.97L290.76,428.97L290.76,429.18L295.05,429.18L295.05,428.98L299.48,428.98L299.48,428.95L301.09,428.95L301.09,428.68L305.56,428.68L305.56,428.42L310.13,428.42L310.13,428.72L314.93,428.72L314.93,428.53L318.91,428.53L318.91,428.64L321.46,428.64L321.46,428.37L324.09,428.37L324.09,429.35L327.14,429.35L327.14,429.31L330.93,429.31L330.93,429.21L335.10,429.21L335.10,429.13L340.08,429.13L340.08,428.59L342.54,428.59L342.54,428.35L345.48,428.35L345.48,429.31L347.79,429.31L347.79,428.70L352.51,428.70L352.51,429.21L356.71,429.21L356.71,429.24L361.33,429.24L361.33,428.50L364.69,428.50L364.69,428.74L369.08,428.74L369.08,428.81L372.77,428.81L372.77,429.48L376.15,429.48L376.15,429.01L378.22,429.01L378.22,429.02L381.99,429.02L381.99,428.89L386.77,428.89L386.77,429.21L391.47,429.21L391.47,428.57L396.36,428.57L396.36,428.80L398.60,428.80L398.60,428.50L403.27,428.50L403.27,429.29L405.68,429.29L405.68,428.70L410.65,428.70L410.65,429.28L413.68,429.28L413.68,429.35L417.60,429.35L417.60,428.82L421.73,428.82L421.73,428.58L424.13,428.58L424.13,428.79L428.05,428.79L428.05,429.63L430.46,429.63L430.46,429.23L434.21,429.23L434.21,429.25L438.01,429.25L438.01,428.93L441.94,428.93L441.94,428.68L443.67,428.68L443.67,429.01L445.22,429.01L445.22,428.74L447.21,428.74L447.21,429.69L450.44,429.69L450.44,428.94L454.35,428.94L454.35,428.84L458.54,428.84L458.54,428.99L460.39,428.99L460.39,429.42L463.32,429.42L463.32,429.47L466.38,429.47L466.38,429.71L468.21,429.71L468.21,429.60L470.91,429.60L470.91,429.61L472.52,429.61L472.52,429.64L474.81,429.64L474.81,429.44L479.12,429.44L479.12,428.73L481.59,428.73L481.59,429.72L483.76,429.72L483.76,429.46L485.81,429.46L485.81,429.46L489.36,429.46L489.36,428.90L491.50,428.90L491.50,429.83L493.34,429.83L493.34,429.48L496.18,429.48L496.18,429.01L499.67,429.01L499.67,428.79L501.40,428.79L501.40,428.92L505.88,428.92L505.88,429.19L510.75,429.19L510.75,428.96L514.78,428.96L514.78,429.10L519.04,429.10L519.04,429.41L521.82,429.41L521.82,429.11L523.71,429.11L523.71,429.16L528.00,429.16L528.00,429.70L530.83,429.70L530.83,429.08L533.11,429.08L533.11,429.29L535.38,429.29L535.38,429.58L538.16,429.58L538.16,429.84L541.31,429.84L541.31,429.63L542.99,429.63L542.99,429.16L547.41,429.16L547.41,429.39L549.02,429.39L549.02,429.42L550.92,429.42L550.92,429.03L554.91,429.03L554.91,429.46L556.83,429.46L556.83,429.19L558.93,429.19L558.93,429.08L561.97,429.08L561.97,429.35L563.71,429.35L563.71,429.99L566.85,429.99L566.85,429.05L570.30,429.05L570.30,429.80L572.57,429.80L572.57,429.94L576.04,429.94L576.04,429.94L580.91,429.94L580.91,430.05L582.80,430.05L582.80,429.28L586.14,429.28L586.14,429.97L588.23,429.97L588.23,429.12L590.48,429.12L590.48,430.05L592.90,430.05L592.90,429.85L596.02,429.85L596.02,429.55L597.78,429.55L597.78,429.28L600.39,429.28L600.39,429.46L604.21,429.46L604.21,430.16L606.13,430.16L606.13,429.28L609.32,429.28L609.32,429.81L610.85,429.81L610.85,429.12L614.16,429.12L614.16,429.92L617.30,429.92L617.30,429.37L620.68,429.37L620.68,429.79L623.93,429.79L623.93,429.29L627.71,429.29L627.71,430.18L632.02,430.18L632.02,430.10L636.11,430.10L636.11,430.16L638.90,430.16L638.90,429.42L641.03,429.42L641.03,430.17L644.63,430.17L644.63,429.43L646.41,429.43L646.41,429.68L648.04,429.68L648.04,429.41L650.03,429.41L650.03,429.85L654.15,429.85L654.15,429.66L658.94,429.66L658.94,429.25L662.82,429.25L662.82,429.50L667.64,429.50L667.64,429.82L670.81,429.82L670.81,429.81L675.63,429.81L675.63,429.96L680.60,429.96L680.60,430.21L682.85,430.21L682.85,430.40L685.06,430.40L685.06,429.55L688.16,429.55L688.16,429.67L693.02,429.67L693.02,429.71L695.95,429.71L695.95,429.36L699.79,429.36L699.79,429.53L702.60,429.53L702.60,429.36L706.99,429.36L706.99,429.65L710.62,429.65L710.62,430.00L713.71,430.00L713.71,429.54L717.70,429.54L717.70,429.53L720.04,429.53L720.04,429.57L724.90,429.57L724.90,429.99L726.88,429.99L726.88,430.40L730.42,430.40L730.42,429.69L732.12,429.69L732.12,430.08L734.20,430.08L734.20,429.90L737.29,429.90L737.29,430.18L741.90,430.18L741.90,430.52L746.41,430.52L746.41,430.52L748.85,430.52L748.85,429.54L751.78,429.54L751.78,429.61L752.20,429.61L752.20,433.7Z" fill="#0072BD" stroke="#0072BD" stroke-width="0.5"/>
<text x="45.15" y="452.10" font-size="20" fill="#000">0</text>
<text x="103.70" y="452.10" font-size="20" fill="#000">100</text>
<text x="172.55" y="452.10" font-size="20" fill="#000">200</text>
<text x="243.50" y="452.10" font-size="20" fill="#000">300</text>
<text x="314.25" y="452.10" font-size="20" fill="#000">400</text>
<text x="384.20" y="452.10" font-size="20" fill="#000">500</text>
<text x="453.25" y="452.10" font-size="20" fill="#000">600</text>
<text x="523.75" y="452.10" font-size="20" fill="#000">700</text>
<text x="594.80" y="452.10" font-size="20" fill="#000">800</text>
<text x="665.20" y="452.10" font-size="20" fill="#000">900</text>
<text x="730.90" y="452.10" font-size="20" fill="#000">1000</text>
<text x="47.5" y="297.7" font-size="20" text-anchor="end">4</text>
<text x="47.5" y="333.6" font-size="20" text-anchor="end">3</text>
<text x="47.5" y="369.4" font-size="20" text-anchor="end">2</text>
<text x="47.5" y="404.5" font-size="20" text-anchor="end">1</text>
<text x="47.5" y="437.7" font-size="20" text-anchor="end">0</text>
<text x="51.44" y="262.62" font-size="13.5" textLength="8.88" lengthAdjust="spacingAndGlyphs" fill="#000" >×</text>
<text x="61.14" y="261.10" font-size="20.5" textLength="20.69" lengthAdjust="spacingAndGlyphs" fill="#000" >10</text>
<text x="80.01" y="247.60" font-size="11.5" textLength="10.19" lengthAdjust="spacingAndGlyphs" fill="#000" >-7</text>
<text x="285.43" y="261.90" font-size="21.7" textLength="242.12" lengthAdjust="spacingAndGlyphs" fill="#000" >(b)IMF1 marginal spectrum</text>
<text x="347.66" y="472.50" font-size="21.7" textLength="120.26" lengthAdjust="spacingAndGlyphs" fill="#000" >Frequency/Hz</text>
<text transform="translate(25.8,419.5) rotate(-90)" font-size="25" textLength="136" lengthAdjust="spacingAndGlyphs">Energy,cm<tspan font-size="15" dy="-7.6">2</tspan><tspan dy="7.6">/s</tspan><tspan font-size="15" dy="-7.6">3</tspan></text>
<rect x="50.6" y="508.9" width="701.9" height="176.5" fill="none" stroke="#a9a9a9" stroke-width="1.5"/>
<rect x="51.1" y="509.4" width="700.00" height="175.20" fill="#3E26A8"/>
<path d="M51.6,509.4V684.2H751.1" fill="none" stroke="#231a5e" stroke-width="1"/>
<rect x="231.6" y="640.7" width="1.6" height="1.4" fill="#1fa8d8"/>
<rect x="232.8" y="644.6" width="1.6" height="1.4" fill="#b8c030"/>
<rect x="239.5" y="647.3" width="1.6" height="1.4" fill="#20b0e0"/>
<rect x="240.7" y="651.0" width="1.6" height="1.4" fill="#3060e0"/>
<rect x="237.7" y="655.3" width="1.6" height="1.4" fill="#30c0a0"/>
<rect x="230.7" y="650.8" width="1.6" height="1.4" fill="#3848c8"/>
<rect x="271.0" y="638.8" width="1.6" height="1.4" fill="#3060e8"/>
<rect x="272.5" y="652.9" width="1.6" height="1.4" fill="#20b8d8"/>
<rect x="274.9" y="655.9" width="1.6" height="1.4" fill="#f0b040"/>
<rect x="278.0" y="657.1" width="1.6" height="1.4" fill="#e0a060"/>
<rect x="279.8" y="655.3" width="1.6" height="1.4" fill="#20b0d0"/>
<rect x="281.6" y="639.3" width="1.6" height="1.4" fill="#4050d0"/>
<path d="M121.66,509.4v6M121.66,684.6v-6M191.72,509.4v6M191.72,684.6v-6M261.78,509.4v6M261.78,684.6v-6M331.84,509.4v6M331.84,684.6v-6M401.90,509.4v6M401.90,684.6v-6M471.96,509.4v6M471.96,684.6v-6M542.02,509.4v6M542.02,684.6v-6M612.08,509.4v6M612.08,684.6v-6M682.14,509.4v6M682.14,684.6v-6M51.1,597.00h6M751.1,597.00h-6" stroke="#1a1a50" stroke-width="1.4" fill="none"/>
<text x="32.80" y="704.80" font-size="20" fill="#000">-1000</text>
<text x="109.25" y="704.80" font-size="20" fill="#000">-500</text>
<text x="191.10" y="704.80" font-size="20" fill="#000">0</text>
<text x="251.35" y="704.80" font-size="20" fill="#000">500</text>
<text x="315.40" y="704.80" font-size="20" fill="#000">1000</text>
<text x="386.35" y="704.80" font-size="20" fill="#000">1500</text>
<text x="458.30" y="704.80" font-size="20" fill="#000">2000</text>
<text x="526.20" y="704.80" font-size="20" fill="#000">2500</text>
<text x="597.10" y="704.80" font-size="20" fill="#000">3000</text>
<text x="667.60" y="704.80" font-size="20" fill="#000">3500</text>
<text x="735.85" y="704.80" font-size="20" fill="#000">4000</text>
<text x="47.2" y="514.8" font-size="20" text-anchor="end">800</text>
<text x="47.2" y="602.8" font-size="20" text-anchor="end">400</text>
<text x="47.2" y="686.5" font-size="20" text-anchor="end">0</text>
<text x="265.43" y="501.90" font-size="21.7" textLength="289.56" lengthAdjust="spacingAndGlyphs" fill="#000" >(c)IMF1 time-frequency diagram</text>
<text x="369.57" y="721.80" font-size="21.7" textLength="76.00" lengthAdjust="spacingAndGlyphs" fill="#000" >Time/ms</text>
<text transform="translate(16.40,659.93) rotate(-90)" x="0" y="0" font-size="21.7" textLength="119.86" lengthAdjust="spacingAndGlyphs" fill="#000">Frequency/Hz</text>
<defs><linearGradient id="par" x1="0" y1="1" x2="0" y2="0">
<stop offset="0.000" stop-color="#3e26a8"/>
<stop offset="0.048" stop-color="#4332cb"/>
<stop offset="0.095" stop-color="#4741e5"/>
<stop offset="0.143" stop-color="#4852f4"/>
<stop offset="0.190" stop-color="#4563fd"/>
<stop offset="0.238" stop-color="#3875fe"/>
<stop offset="0.286" stop-color="#2e87f7"/>
<stop offset="0.333" stop-color="#2797eb"/>
<stop offset="0.381" stop-color="#20a5e3"/>
<stop offset="0.429" stop-color="#12b1d6"/>
<stop offset="0.476" stop-color="#02bac3"/>
<stop offset="0.524" stop-color="#24c1ae"/>
<stop offset="0.571" stop-color="#37c897"/>
<stop offset="0.619" stop-color="#57cc7a"/>
<stop offset="0.667" stop-color="#81cc59"/>
<stop offset="0.714" stop-color="#abc739"/>
<stop offset="0.762" stop-color="#d1bf27"/>
<stop offset="0.810" stop-color="#f0ba36"/>
<stop offset="0.857" stop-color="#fec338"/>
<stop offset="0.905" stop-color="#fad62d"/>
<stop offset="0.952" stop-color="#f5e924"/>
<stop offset="1.000" stop-color="#f9fb15"/>
<stop offset="1" stop-color="#f9fb15"/>
</linearGradient></defs>
<rect x="770.2" y="509.2" width="29.00" height="175.40" fill="url(#par)" stroke="#666" stroke-width="1"/>
<path d="M798.7,646.20h-2.5M798.7,607.20h-2.5M798.7,568.20h-2.5M798.7,529.20h-2.5" stroke="rgba(0,0,0,0.55)" stroke-width="1.6" fill="none"/>
<text x="808.3" y="535.6" font-size="20">4</text>
<text x="808.3" y="574.3" font-size="20">3</text>
<text x="808.3" y="613.4" font-size="20">2</text>
<text x="808.3" y="652.6" font-size="20">1</text>
<text x="808.3" y="683.6" font-size="20">0</text>
<text x="775.68" y="506.52" font-size="13.5" textLength="8.60" lengthAdjust="spacingAndGlyphs" fill="#000" >×</text>
<text x="785.21" y="504.90" font-size="20.5" textLength="19.89" lengthAdjust="spacingAndGlyphs" fill="#000" >10</text>
<text x="803.83" y="491.30" font-size="11.5" textLength="9.86" lengthAdjust="spacingAndGlyphs" fill="#000" >-7</text>
</g></svg>
</body></html>
